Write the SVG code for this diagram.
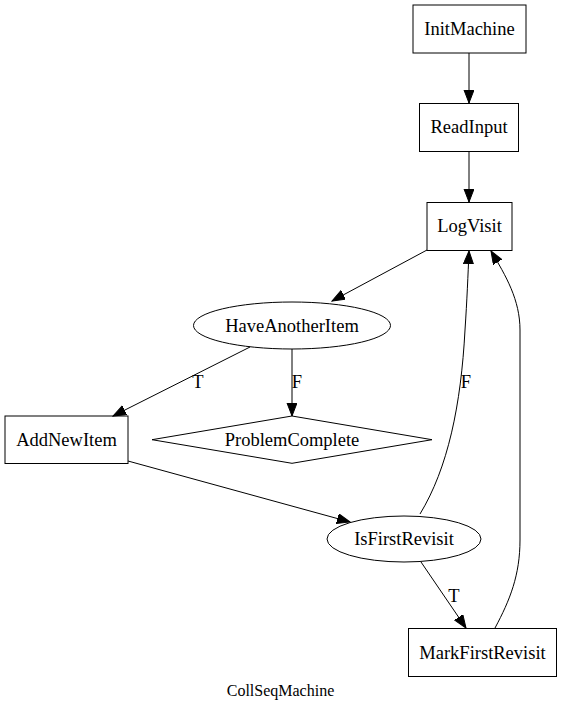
<svg xmlns="http://www.w3.org/2000/svg" width="561" height="709" viewBox="0 0 561 709">
<style>
.n{fill:none;stroke:#000;stroke-width:1}
.t{font-family:"Liberation Serif","Times New Roman",serif;font-size:18.5px;fill:#000;text-anchor:middle}
.e{fill:none;stroke:#000;stroke-width:1;marker-end:url(#ah)}
</style>
<defs>
<marker id="ah" markerUnits="userSpaceOnUse" markerWidth="14" markerHeight="11" refX="13" refY="5" orient="auto">
<path d="M0,0 L13,5 L0,10 z" fill="#000" stroke="#000"/>
</marker>
</defs>
<rect width="561" height="709" fill="#fff"/>
<g id="edges">
<path class="e" d="M469,53 L469,103"/>
<path class="e" d="M469,151 L469,202"/>
<path class="e" d="M427,250 L332,301"/>
<path class="e" d="M250,347 L113,416"/>
<text class="t" x="198" y="388">T</text>
<path class="e" d="M292,349 L292,416"/>
<text class="t" x="297" y="388">F</text>
<path class="e" d="M128,461 L350,522"/>
<path class="e" d="M421,562 L466,628"/>
<text class="t" x="454" y="602">T</text>
<path class="e" d="M420,514 C448,468 461,405 465,330 C467,300 468,275 469,251"/>
<text class="t" x="466" y="388">F</text>
<path class="e" d="M495,628 C510,600 520,575 520,540 L520,330 C520,300 506,276 491,251"/>
</g>
<g id="InitMachine"><rect class="n" x="413" y="5" width="113" height="48"/><text class="t" x="469.5" y="35">InitMachine</text></g>
<g id="ReadInput"><rect class="n" x="419.5" y="103.5" width="99" height="48"/><text class="t" x="469" y="133">ReadInput</text></g>
<g id="LogVisit"><rect class="n" x="427" y="202.5" width="85" height="48"/><text class="t" x="469.5" y="232">LogVisit</text></g>
<g id="HaveAnotherItem"><ellipse class="n" cx="292" cy="325.5" rx="98.5" ry="23.5"/><text class="t" x="292" y="332">HaveAnotherItem</text></g>
<g id="AddNewItem"><rect class="n" x="5" y="416" width="123" height="47.5"/><text class="t" x="66.5" y="446">AddNewItem</text></g>
<g id="ProblemComplete"><polygon class="n" points="292,416 432,439.7 292,463.3 152,439.7"/><text class="t" x="292" y="446">ProblemComplete</text></g>
<g id="IsFirstRevisit"><ellipse class="n" cx="404" cy="539" rx="77" ry="23"/><text class="t" x="404" y="545">IsFirstRevisit</text></g>
<g id="MarkFirstRevisit"><rect class="n" x="408.5" y="628.5" width="148" height="48"/><text class="t" x="482.5" y="659">MarkFirstRevisit</text></g>
<text class="t" x="280.5" y="696" style="font-size:16px">CollSeqMachine</text>
</svg>
